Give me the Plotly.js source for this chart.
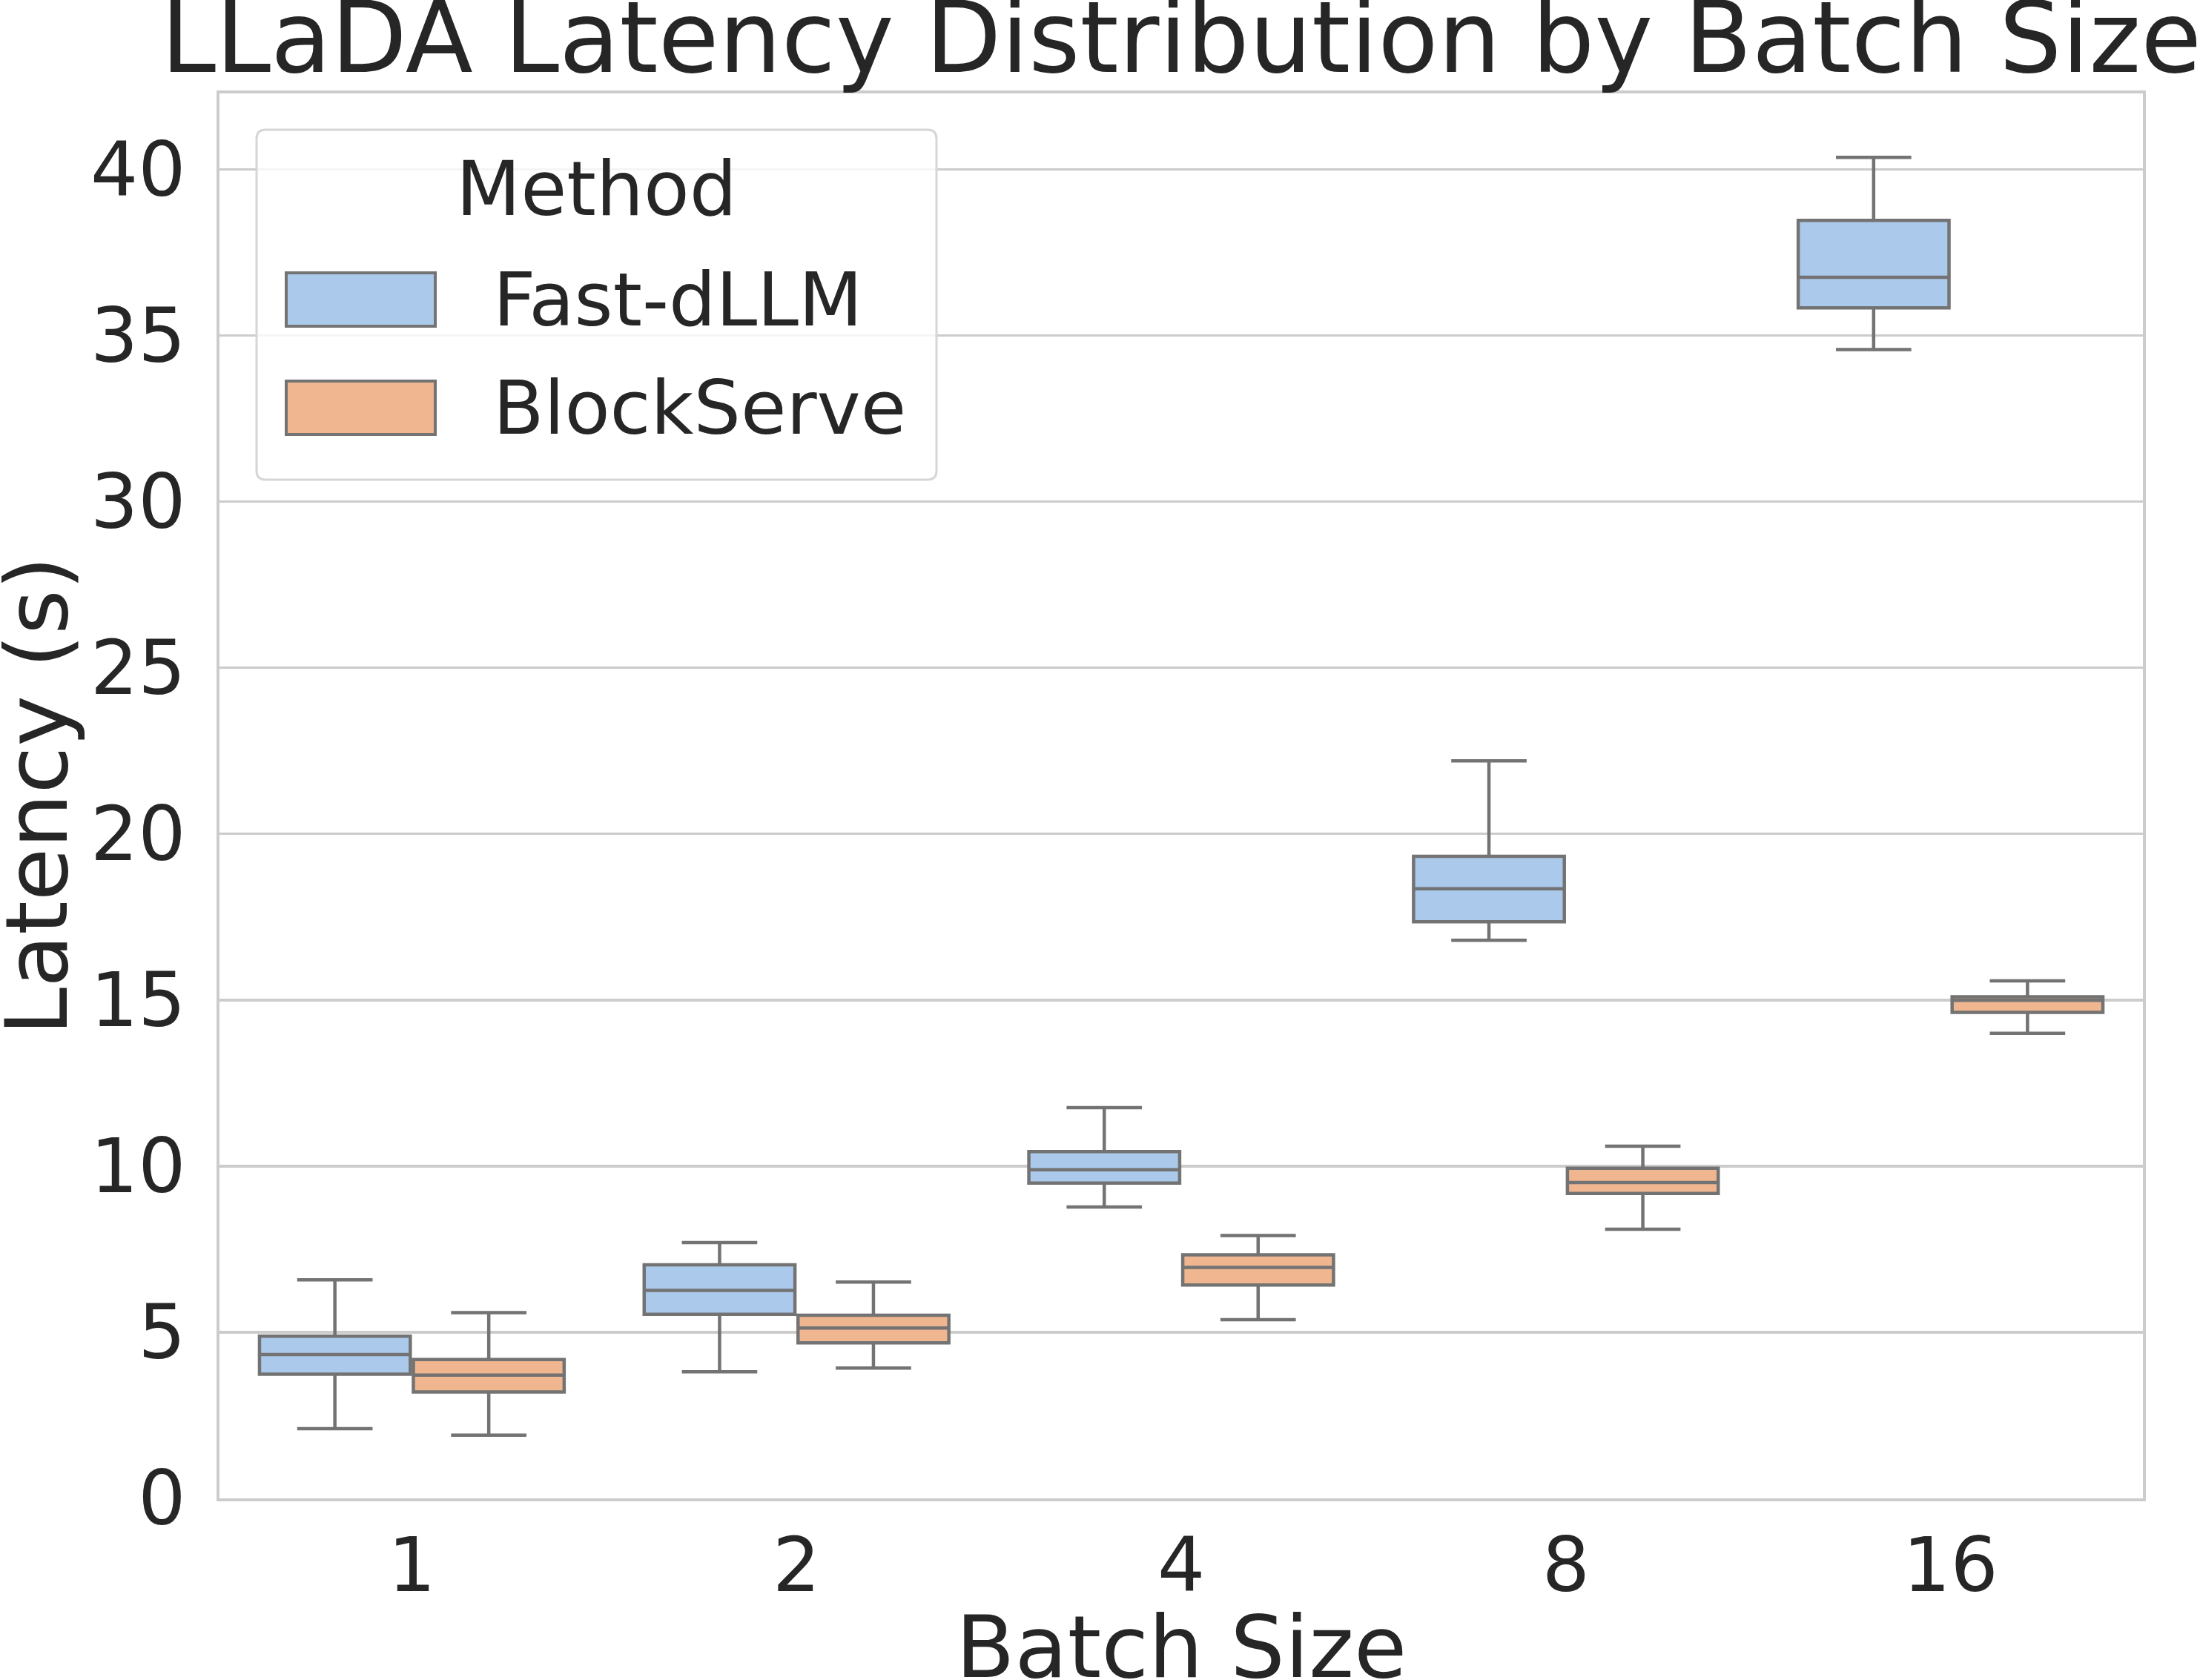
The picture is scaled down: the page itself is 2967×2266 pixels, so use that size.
<!DOCTYPE html>
<html>
<head>
<meta charset="utf-8">
<script src="https://cdn.plot.ly/plotly-3.0.1.min.js"></script>
<style>
  html, body { margin: 0; padding: 0; background: #ffffff; }
  #chart { width: 2967px; height: 2266px; }
</style>
</head>
<body>
<div id="chart"></div>
<script>
// Batch sizes on the x axis
const batchSizes = ['1', '2', '4', '8', '16'];

// Method names (legend order)
const methods = ['Fast-dLLM', 'BlockServe'];

// Fast-dLLM latency summary (seconds)
const fastLower  = [2.10, 3.81, 8.77, 16.80, 34.58];
const fastQ1     = [3.74, 5.54, 9.49, 17.36, 35.84];
const fastMedian = [4.33, 6.26, 9.89, 18.35, 36.76];
const fastQ3     = [4.88, 7.03, 10.44, 19.33, 38.47];
const fastUpper  = [6.58, 7.70, 11.76, 22.20, 40.37];

// BlockServe latency summary (seconds)
const blockLower  = [1.90, 3.92, 5.38, 8.10, 14.00];
const blockQ1     = [3.20, 4.68, 6.42, 9.18, 14.63];
const blockMedian = [3.71, 5.13, 6.95, 9.51, 14.99];
const blockQ3     = [4.18, 5.51, 7.33, 9.94, 15.10];
const blockUpper  = [5.59, 6.51, 7.91, 10.60, 15.58];

// y-axis tick values
const yTicks = [0, 5, 10, 15, 20, 25, 30, 35, 40];

// Axis titles
const xTitle = 'Batch Size';
const yTitle = 'Latency (s)';

const FONT = 'DejaVu Sans, Liberation Sans, sans-serif';
const TEXT = '#262626';
const EDGE = '#737373';
const GRID = '#cccccc';
const fills = ['#abc9eb', '#efb690'];

function boxTrace(name, fill, lo, q1, med, q3, hi) {
  return {
    type: 'box',
    name: name,
    x: batchSizes,
    lowerfence: lo,
    q1: q1,
    median: med,
    q3: q3,
    upperfence: hi,
    fillcolor: fill,
    line: { color: EDGE, width: 4.5 },
    whiskerwidth: 0.5,
    boxpoints: false,
    hoverinfo: 'skip',
    showlegend: false
  };
}

const traces = [
  boxTrace(methods[0], fills[0], fastLower, fastQ1, fastMedian, fastQ3, fastUpper),
  boxTrace(methods[1], fills[1], blockLower, blockQ1, blockMedian, blockQ3, blockUpper)
];

// y range: bottom pinned at 0, top padded by 5% of the data span
const allLo = Math.min(...fastLower, ...blockLower);
const allHi = Math.max(...fastUpper, ...blockUpper);
const yTop = allHi + 0.05 * (allHi - allLo);

// Plot area is 2594 x 1895 px; helpers convert pixel offsets from its top-left to paper units
const W = 2594, H = 1895;
const px = v => v / W;
const py = v => 1 - v / H;

function roundedRect(x0, y0, x1, y1, r) {
  const X = v => px(v).toFixed(5), Y = v => py(v).toFixed(5);
  return `M ${X(x0 + r)},${Y(y0)} L ${X(x1 - r)},${Y(y0)} Q ${X(x1)},${Y(y0)} ${X(x1)},${Y(y0 + r)} ` +
         `L ${X(x1)},${Y(y1 - r)} Q ${X(x1)},${Y(y1)} ${X(x1 - r)},${Y(y1)} ` +
         `L ${X(x0 + r)},${Y(y1)} Q ${X(x0)},${Y(y1)} ${X(x0)},${Y(y1 - r)} ` +
         `L ${X(x0)},${Y(y0 + r)} Q ${X(x0)},${Y(y0)} ${X(x0 + r)},${Y(y0)} Z`;
}

// Legend frame and swatches
const legX0 = 50, legY0 = 49, legX1 = 967, legY1 = 521;
const patchX0 = 90, patchX1 = 291;
const patchRows = [[242, 314], [388, 460]];

const shapes = [
  {
    type: 'path', xref: 'paper', yref: 'paper',
    path: roundedRect(legX0, legY0, legX1, legY1, 12),
    fillcolor: 'rgba(255,255,255,0.8)',
    line: { color: '#d6d6d6', width: 3 },
    layer: 'above'
  }
];
patchRows.forEach((r, i) => {
  shapes.push({
    type: 'rect', xref: 'paper', yref: 'paper',
    x0: px(patchX0), x1: px(patchX1), y0: py(r[1]), y1: py(r[0]),
    fillcolor: fills[i],
    line: { color: EDGE, width: 4 },
    layer: 'above'
  });
});

const annotations = [
  {
    xref: 'paper', yref: 'paper',
    x: px((legX0 + legX1) / 2), y: py(129),
    xanchor: 'center', yanchor: 'middle',
    text: 'Method', showarrow: false,
    font: { family: FONT, size: 101, color: TEXT }
  },
  // axis titles
  {
    xref: 'paper', yref: 'paper',
    x: 0.5, y: py(2221 - 126),
    xanchor: 'center', yanchor: 'middle',
    text: xTitle, showarrow: false,
    font: { family: FONT, size: 116, color: TEXT }
  },
  {
    xref: 'paper', yref: 'paper',
    x: px(49 - 296), y: 0.5,
    xanchor: 'center', yanchor: 'middle',
    textangle: -90,
    text: yTitle, showarrow: false,
    font: { family: FONT, size: 116, color: TEXT }
  }
];
patchRows.forEach((r, i) => {
  annotations.push({
    xref: 'paper', yref: 'paper',
    x: px(367), y: py((r[0] + r[1]) / 2),
    xanchor: 'left', yanchor: 'middle',
    text: methods[i], showarrow: false,
    font: { family: FONT, size: 100, color: TEXT }
  });
});

const layout = {
  width: 2967,
  height: 2266,
  paper_bgcolor: '#ffffff',
  plot_bgcolor: '#ffffff',
  margin: { l: 296, r: 77, t: 126, b: 245, pad: 0 },
  font: { family: FONT, color: TEXT },
  showlegend: false,
  boxmode: 'group',
  boxgap: 0.2,
  boxgroupgap: 0.02,
  title: {
    text: 'LLaDA Latency Distribution by Batch Size',
    font: { family: FONT, size: 133, color: TEXT },
    x: 0.5, xref: 'paper', xanchor: 'center',
    y: 0.957, yref: 'container', yanchor: 'bottom'
  },
  xaxis: {
    type: 'category',
    categoryorder: 'array',
    categoryarray: batchSizes,
    range: [-0.5, 4.5],
    showgrid: false,
    zeroline: false,
    showline: true, mirror: true,
    linecolor: GRID, linewidth: 4.2,
    ticks: '',
    ticklabelstandoff: 0,
    tickfont: { family: FONT, size: 101, color: TEXT },
    automargin: false
  },
  yaxis: {
    range: [0, yTop],
    tickvals: yTicks,
    ticktext: yTicks.map(String),
    showgrid: true,
    gridcolor: GRID, gridwidth: 3.2,
    zeroline: false,
    showline: true, mirror: true,
    linecolor: GRID, linewidth: 4.2,
    ticks: '',
    ticklabelstandoff: 21,
    tickfont: { family: FONT, size: 101, color: TEXT },
    automargin: false
  },
  shapes: shapes,
  annotations: annotations
};

Plotly.newPlot('chart', traces, layout, { staticPlot: true, displayModeBar: false });
</script>
</body>
</html>
